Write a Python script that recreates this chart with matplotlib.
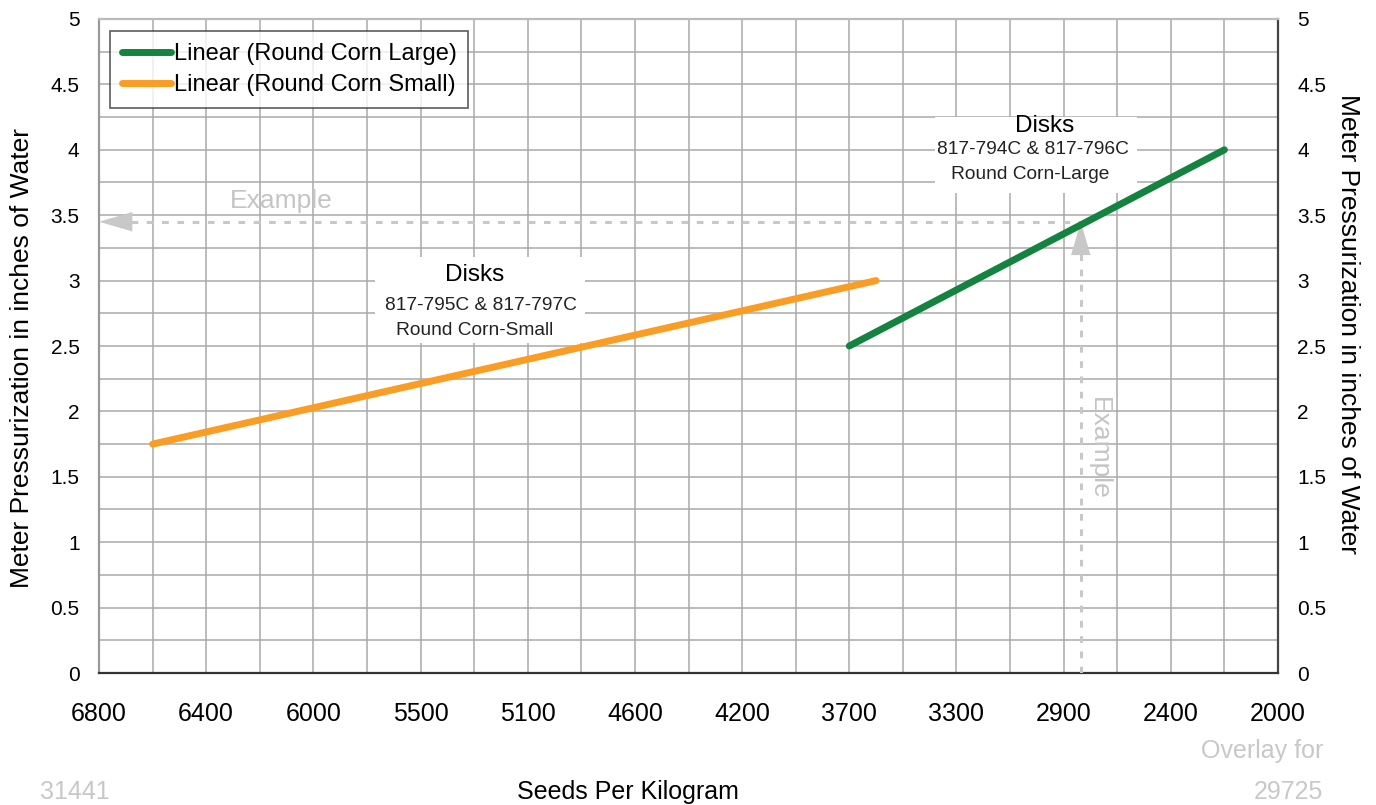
import matplotlib
matplotlib.use("Agg")
import matplotlib.pyplot as plt
from matplotlib.patches import Rectangle
import numpy as np

plt.rcParams['font.family'] = ['Liberation Sans', 'DejaVu Sans']

# Data (x in category-position units along the axis)
x_tick_labels = ['6800', '6400', '6000', '5500', '5100', '4600', '4200',
                 '3700', '3300', '2900', '2400', '2000']
y_ticks = [0, 0.5, 1, 1.5, 2, 2.5, 3, 3.5, 4, 4.5, 5]
small_x = [0.5, 7.25]
small_y = [1.75, 3.0]
large_x = [7.0, 10.5]
large_y = [2.5, 4.0]
example_x = 9.16
example_y = 3.45

GREEN = '#13833f'
ORANGE = '#f99d25'
GRAY = '#c8c8c8'

fig = plt.figure(figsize=(13.76, 8.05), dpi=100)
ax = fig.add_axes([99/1376, 1 - 673/805, (1278-99)/1376, (673-19)/805])

ax.set_xlim(0, 11)
ax.set_ylim(0, 5)
ax.set_xticks(np.arange(len(x_tick_labels)))
ax.set_xticklabels(x_tick_labels, fontsize=18)
ax.set_xticks(np.arange(0, 11.01, 0.5), minor=True)
ax.set_yticks(y_ticks)
ax.set_yticklabels([f'{v:g}' for v in y_ticks], fontsize=15)
ax.set_yticks(np.arange(0, 5.01, 0.25), minor=True)
ax.tick_params(axis='both', which='both', length=0)
ax.tick_params(axis='x', pad=21)
ax.tick_params(axis='y', pad=14)
ax.tick_params(axis='y', labelright=True, right=False)
ax.grid(True, which='both', color='#a9a9a9', lw=1.1, zorder=0)
ax.set_axisbelow(True)

ax.spines['left'].set_color('#999999')
ax.spines['top'].set_color('#bbbbbb')
ax.spines['bottom'].set_color('#333333')
ax.spines['right'].set_color('#444444')
for s in ax.spines.values():
    s.set_linewidth(1.6)

ylabel = 'Meter Pressurization in inches of Water'
fig.text(22/1376, 1 - 358/805, ylabel, fontsize=19, rotation=90,
         ha='center', va='center')
fig.text(1348/1376, 1 - 324/805, ylabel, fontsize=19, rotation=-90,
         ha='center', va='center')

# white label boxes
ax.add_patch(Rectangle((2.575, 2.52), 1.96, 0.66, facecolor='white',
                       edgecolor='none', zorder=2))
ax.add_patch(Rectangle((7.8, 3.67), 1.88, 0.58, facecolor='white',
                       edgecolor='none', zorder=2))

# example guide lines
ax.plot([0.3, example_x], [example_y, example_y], color=GRAY, lw=2.2,
        dashes=(2.2, 2.8), zorder=3)
ax.plot([example_x, example_x], [0, example_y - 0.25], color=GRAY, lw=2.2,
        dashes=(2.2, 2.8), zorder=3)
ax.annotate('', xy=(0.0, example_y), xytext=(0.36, example_y),
            arrowprops=dict(arrowstyle='-|>,head_length=2.4,head_width=0.7',
                            color=GRAY, lw=0, shrinkA=0, shrinkB=0), zorder=3)
ax.annotate('', xy=(example_x, example_y), xytext=(example_x, example_y - 0.28),
            arrowprops=dict(arrowstyle='-|>,head_length=2.4,head_width=0.7',
                            color=GRAY, lw=0, shrinkA=0, shrinkB=0), zorder=3)
ax.text(1.70, 3.605, 'Example', color='#c4c4c4', fontsize=19, ha='center', va='center', zorder=4)
ax.text(9.33, 1.72, 'Example', color='#c4c4c4', fontsize=19, ha='center', va='center',
        rotation=-90, zorder=4)

# lines
ax.plot(large_x, large_y, color=GREEN, lw=5, solid_capstyle='round', zorder=5,
        label='Linear (Round Corn Large)')
ax.plot(small_x, small_y, color=ORANGE, lw=5, solid_capstyle='round', zorder=5,
        label='Linear (Round Corn Small)')

# annotations
ax.text(3.507, 3.04, 'Disks', fontsize=17.5, ha='center', va='center', zorder=4)
ax.text(3.56, 2.81, '817-795C & 817-797C', fontsize=13.8, ha='center', va='center', zorder=4, color='#222222')
ax.text(3.507, 2.62, 'Round Corn-Small', fontsize=13.8, ha='center', va='center', zorder=4, color='#222222')
ax.text(8.82, 4.18, 'Disks', fontsize=17.5, ha='center', va='center', zorder=4)
ax.text(8.71, 4.0, '817-794C & 817-796C', fontsize=13.8, ha='center', va='center', zorder=4, color='#222222')
ax.text(8.69, 3.81, 'Round Corn-Large', fontsize=13.8, ha='center', va='center', zorder=4, color='#222222')

leg = ax.legend(loc='upper left', bbox_to_anchor=(11/1179, 1 - 12/654), fontsize=17,
                frameon=True, fancybox=False, handlelength=2.1, handletextpad=0.1,
                borderpad=0.5, labelspacing=0.4, borderaxespad=0)
leg.get_frame().set_edgecolor('#333333')
leg.get_frame().set_linewidth(1.2)
leg.set_zorder(6)

# outside texts
fig.text(628/1376, 1 - 792/805, 'Seeds Per Kilogram', fontsize=18, ha='center', va='center')
fig.text(75/1376, 1 - 792/805, '31441', fontsize=18, ha='center', va='center', color=GRAY)
fig.text(1323/1376, 1 - 751/805, 'Overlay for', fontsize=18, ha='right', va='center', color=GRAY)
fig.text(1323/1376, 1 - 792/805, '29725', fontsize=18, ha='right', va='center', color=GRAY)

fig.savefig('out.png', dpi=100)
